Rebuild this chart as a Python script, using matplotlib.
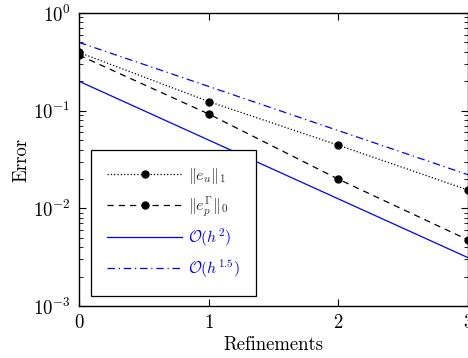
import matplotlib
matplotlib.use("Agg")
import matplotlib.pyplot as plt
import matplotlib.ticker as mticker

# ── Data ──────────────────────────────
refinements = [0, 1, 2, 3]
err_u = [0.395, 0.124, 0.0443, 0.0154]
err_p = [0.370, 0.0925, 0.0199, 0.00475]
ref_h2 = [0.2, 0.05, 0.0125, 0.003125]
ref_h15 = [0.5, 0.177, 0.0625, 0.0221]

plt.rcParams["mathtext.fontset"] = "cm"
plt.rcParams["font.family"] = "serif"
plt.rcParams["font.serif"] = ["cmr10", "DejaVu Serif"]
plt.rcParams["axes.formatter.use_mathtext"] = True

BLUE = "#0000ff"
FS = 13.5

fig = plt.figure(figsize=(4.68, 3.58), dpi=100)
ax = fig.add_axes([79 / 468, 1 - 306 / 358, 389 / 468, 293 / 358])

ax.semilogy(refinements, err_u, color="black", linestyle=":", linewidth=0.9,
            marker="o", markersize=5, label=r"$\|e_u\|_1$")
ax.semilogy(refinements, err_p, color="black", linestyle=(0, (5, 4)), linewidth=0.9,
            marker="o", markersize=5, label=r"$\|e_p^\Gamma\|_0$")
ax.semilogy(refinements, ref_h2, color=BLUE, linestyle="-", linewidth=0.9,
            label=r"$\mathcal{O}(h^2)$")
ax.semilogy(refinements, ref_h15, color=BLUE, linestyle=(0, (6, 3, 1, 3)), linewidth=0.9,
            label=r"$\mathcal{O}(h^{1.5})$")

ax.set_xlim(0, 3)
ax.set_ylim(1e-3, 1)
ax.set_xticks(refinements)
ax.yaxis.set_major_locator(mticker.LogLocator(base=10, numticks=10))
ax.yaxis.set_minor_locator(mticker.LogLocator(base=10, subs=range(2, 10), numticks=10))
ax.tick_params(which="both", direction="in", top=True, right=True, labelsize=FS)
ax.tick_params(which="major", length=5, pad=6)
ax.tick_params(which="minor", length=3)
for s in ax.spines.values():
    s.set_linewidth(1.0)

ax.set_xlabel("Refinements", fontsize=FS, labelpad=3)
ax.set_ylabel("Error", fontsize=FS, labelpad=2)

leg = ax.legend(loc="upper left", bbox_to_anchor=(91 / 468, 1 - 150 / 358),
                bbox_transform=fig.transFigure, fancybox=False, framealpha=1,
                edgecolor="black", numpoints=1, handlelength=4.7, handletextpad=0.4,
                labelspacing=0.52, borderpad=1.0, borderaxespad=0, fontsize=11.5)
leg.get_frame().set_linewidth(0.9)
for txt, col in zip(leg.get_texts(), ["#333333", "#333333", BLUE, BLUE]):
    txt.set_color(col)

fig.savefig("out.png", dpi=100)
